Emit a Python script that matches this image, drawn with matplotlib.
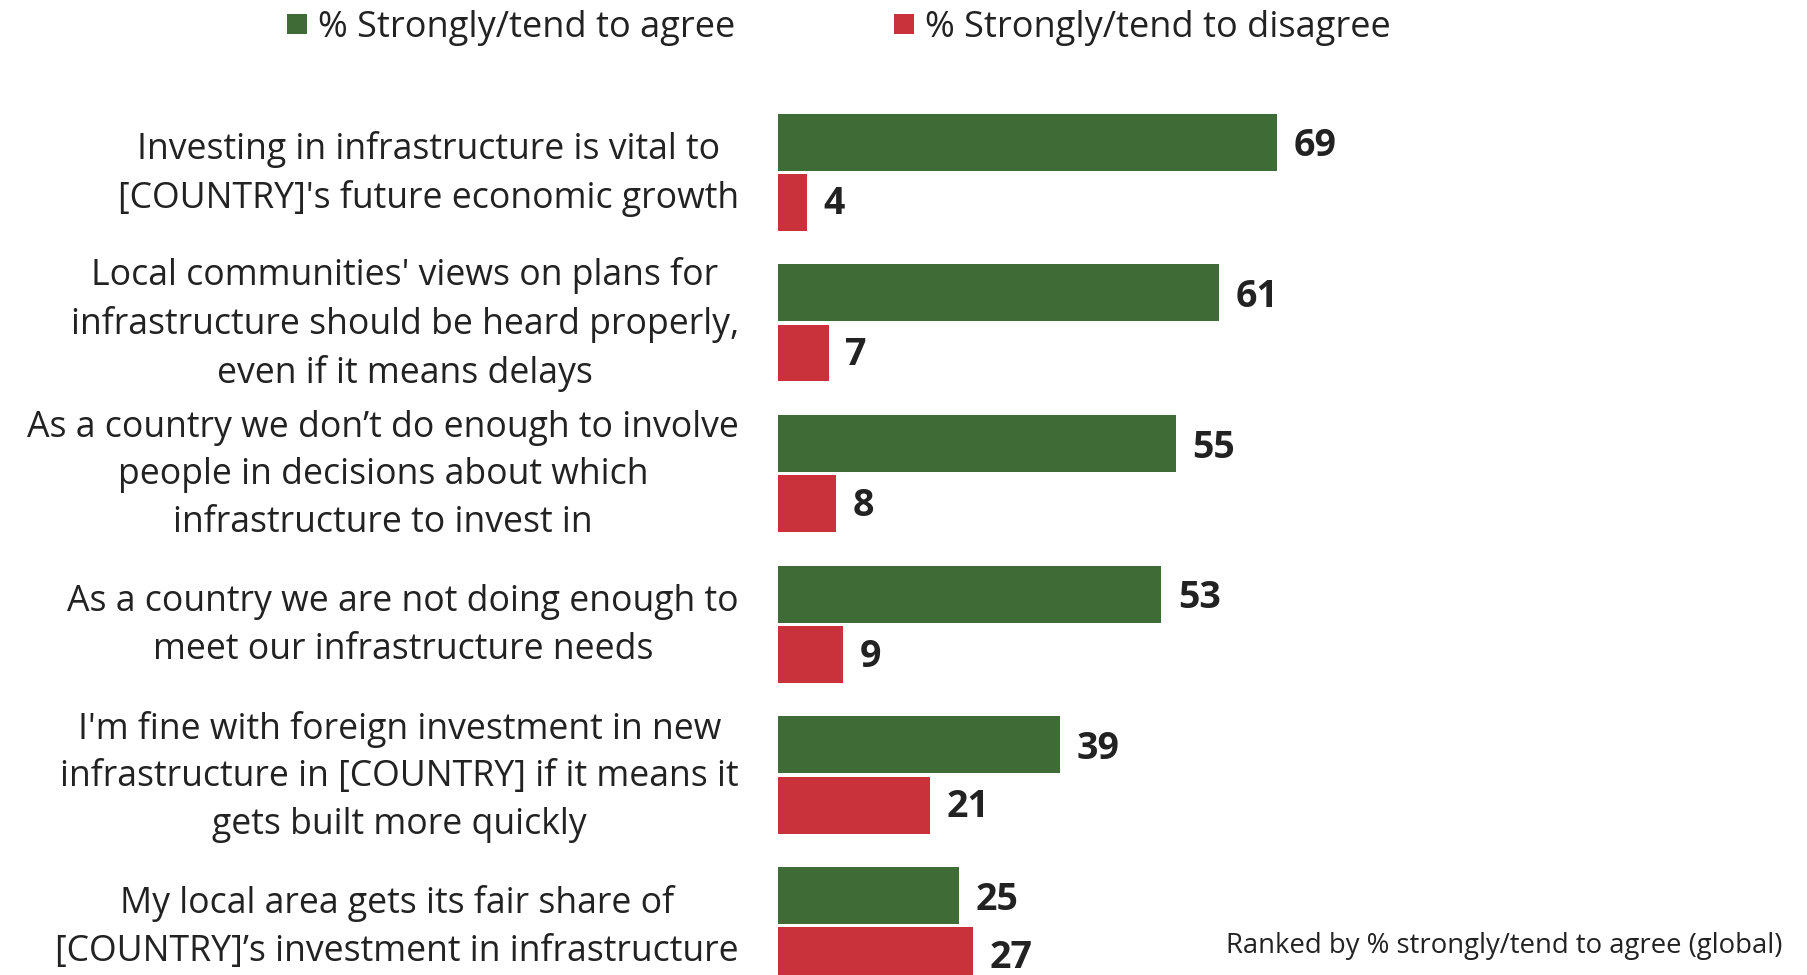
import matplotlib
matplotlib.use("Agg")
import matplotlib.pyplot as plt
from matplotlib.patches import Rectangle
from matplotlib.transforms import blended_transform_factory

plt.rcParams['font.family'] = ['Open Sans', 'DejaVu Sans']

categories = [
    "Investing in infrastructure is vital to\n[COUNTRY]'s future economic growth",
    "Local communities' views on plans for\ninfrastructure should be heard properly,\neven if it means delays",
    "As a country we don\u2019t do enough to involve\npeople in decisions about which\ninfrastructure to invest in",
    "As a country we are not doing enough to\nmeet our infrastructure needs",
    "I'm fine with foreign investment in new\ninfrastructure in [COUNTRY] if it means it\ngets built more quickly",
    "My local area gets its fair share of\n[COUNTRY]\u2019s investment in infrastructure",
]
agree = [69, 61, 55, 53, 39, 25]
disagree = [4, 7, 8, 9, 21, 27]
series_names = ["% Strongly/tend to agree", "% Strongly/tend to disagree"]
note = "Ranked by % strongly/tend to agree (global)"

GREEN = "#3e6b36"
RED = "#c9323b"
TXT = "#222222"

W, H = 1808, 975
fig = plt.figure(figsize=(W / 100, H / 100), dpi=100)
fig.patch.set_facecolor("white")

ax = fig.add_axes([778 / W, 0, 723 / W, 1])
ax.set_xlim(0, 100)
ax.set_ylim(5.327, -1.143)
ax.axis("off")

off = 0.2
hgt = 0.377
ys = list(range(len(categories)))
ax.barh([y - off for y in ys], agree, height=hgt, color=GREEN, edgecolor="none")
ax.barh([y + off for y in ys], disagree, height=hgt, color=RED, edgecolor="none")

for y, a, d in zip(ys, agree, disagree):
    ax.annotate(str(a), xy=(a, y - off), xytext=(12, -3), textcoords="offset points",
                ha="left", va="center", fontsize=27, fontweight="bold", color=TXT)
    ax.annotate(str(d), xy=(d, y + off), xytext=(12, -1.5), textcoords="offset points",
                ha="left", va="center", fontsize=27, fontweight="bold", color=TXT)

tr = blended_transform_factory(fig.transFigure, ax.transData)
for y, lab in zip(ys, categories):
    ax.text(739 / W, y + 0.012, lab, transform=tr, ha="right", va="center",
            multialignment="center", fontsize=25.7, color=TXT, linespacing=1.42)

# legend
sq = 20
fig.patches.append(Rectangle((287 / W, 1 - 34 / H), sq / W, sq / H, transform=fig.transFigure,
                             facecolor=GREEN, edgecolor="none"))
fig.text(318 / W, 1 - 27.5 / H, series_names[0], ha="left", va="center", fontsize=26, color=TXT)
fig.patches.append(Rectangle((894 / W, 1 - 34 / H), sq / W, sq / H, transform=fig.transFigure,
                             facecolor=RED, edgecolor="none"))
fig.text(925 / W, 1 - 27.5 / H, series_names[1], ha="left", va="center", fontsize=26, color=TXT)

fig.text(1782 / W, 1 - 946 / H, note, ha="right", va="center", fontsize=19.8, color=TXT)

fig.savefig("out.png", dpi=100)
